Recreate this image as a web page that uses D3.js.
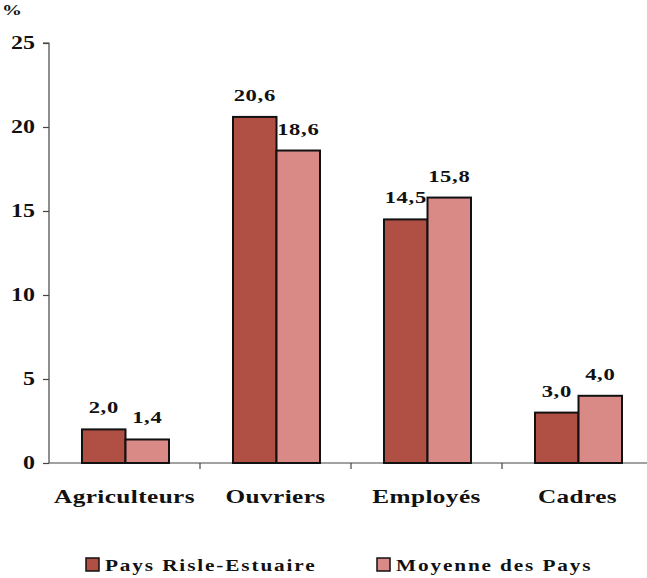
<!DOCTYPE html>
<html>
<head>
<meta charset="utf-8">
<script src="https://cdn.jsdelivr.net/npm/d3@7"></script>
<style>
  body { margin: 0; background: #fff; }
  text { font-family: "Liberation Serif", "Times New Roman", serif; font-weight: bold; fill: #111; }
</style>
</head>
<body>
<div id="chart"></div>
<script>
const categories = ['Agriculteurs', 'Ouvriers', 'Employés', 'Cadres'];
const seriesNames = ['Pays Risle-Estuaire', 'Moyenne des Pays'];
const risle = [2.0, 20.6, 14.5, 3.0];
const moyenne = [1.4, 18.6, 15.8, 4.0];
const yTicks = [0, 5, 10, 15, 20, 25];
const colors = ['#b04f44', '#d98a86'];

const w = 647, h = 578;
const svg = d3.select('#chart').append('svg')
  .attr('width', w)
  .attr('height', h);

const [x0, y0, w0, h0] = [49, 43, 604, 420];
const sx = 1.33; // wide serif look

const yScale = d3.scaleLinear().domain([0, 25]).range([h0, 0]);
const xScale = d3.scaleBand().domain(categories).range([0, w0]);
const inner = d3.scaleBand().domain(seriesNames).range([33, xScale.bandwidth() - 31]);

const fmt = v => d3.format('.1f')(v).replace('.', ',');

// text helper: place at x,y then stretch horizontally
function label(parent, x, y, str, size, anchor, ls) {
  return parent.append('text')
    .attr('transform', `translate(${x}, ${y}) scale(${sx}, 1)`)
    .attr('text-anchor', anchor)
    .style('font-size', size + 'px')
    .style('letter-spacing', (ls || 0) + 'px')
    .text(str);
}

const g = svg.append('g').attr('transform', `translate(${x0}, ${y0})`);

// y axis
const yAxis = d3.axisLeft(yScale).tickValues(yTicks).tickSize(6).tickFormat('');
const ya = g.append('g').call(yAxis);
ya.select('.domain').attr('d', `M-6,0H0V${h0}`).attr('stroke', '#444').attr('stroke-width', 1.2);
ya.selectAll('.tick line').attr('stroke', '#444').attr('stroke-width', 1.2);
yTicks.forEach(t => label(g, -14, yScale(t) + 6, String(t), 18, 'end'));

// x axis
const xa = g.append('g').attr('transform', `translate(0, ${h0})`);
xa.append('line').attr('x1', 0).attr('x2', w - x0).attr('stroke', '#444').attr('stroke-width', 1.2);
xa.selectAll('line.tk')
  .data(categories.slice(1))
  .enter().append('line')
  .attr('class', 'tk')
  .attr('x1', d => xScale(d)).attr('x2', d => xScale(d))
  .attr('y1', 0).attr('y2', 6)
  .attr('stroke', '#444').attr('stroke-width', 1.2);
categories.forEach(c => label(xa, xScale(c) + xScale.bandwidth() / 2, 40, c, 19, 'middle', 0.3));

label(svg, 12, 15, '%', 15, 'middle');

// bars
const rows = categories.map((c, i) => ({ cat: c, vals: [risle[i], moyenne[i]] }));
const groups = g.selectAll('g.cat')
  .data(rows)
  .enter().append('g')
  .attr('class', 'cat')
  .attr('transform', d => `translate(${xScale(d.cat)}, 0)`);

groups.selectAll('rect')
  .data(d => d.vals.map((v, j) => ({ name: seriesNames[j], v, j })))
  .enter().append('rect')
  .attr('x', d => inner(d.name))
  .attr('y', d => yScale(d.v))
  .attr('width', inner.bandwidth())
  .attr('height', d => h0 - yScale(d.v))
  .attr('fill', d => colors[d.j])
  .attr('stroke', '#111')
  .attr('stroke-width', 2);

groups.each(function (d) {
  const grp = d3.select(this);
  d.vals.forEach((v, j) => {
    label(grp, inner(seriesNames[j]) + inner.bandwidth() / 2, yScale(v) - 16, fmt(v), 17, 'middle', 0.5);
  });
});

// legend
const legX = [86, 377];
seriesNames.forEach((s, i) => {
  const lg = svg.append('g').attr('transform', `translate(${legX[i]}, 565)`);
  lg.append('rect')
    .attr('x', 0).attr('y', -7).attr('width', 13).attr('height', 13)
    .attr('fill', colors[i]).attr('stroke', '#111').attr('stroke-width', 1.5);
  label(lg, 19, 6, s, 16, 'start', 1.4);
});
</script>
</body>
</html>
